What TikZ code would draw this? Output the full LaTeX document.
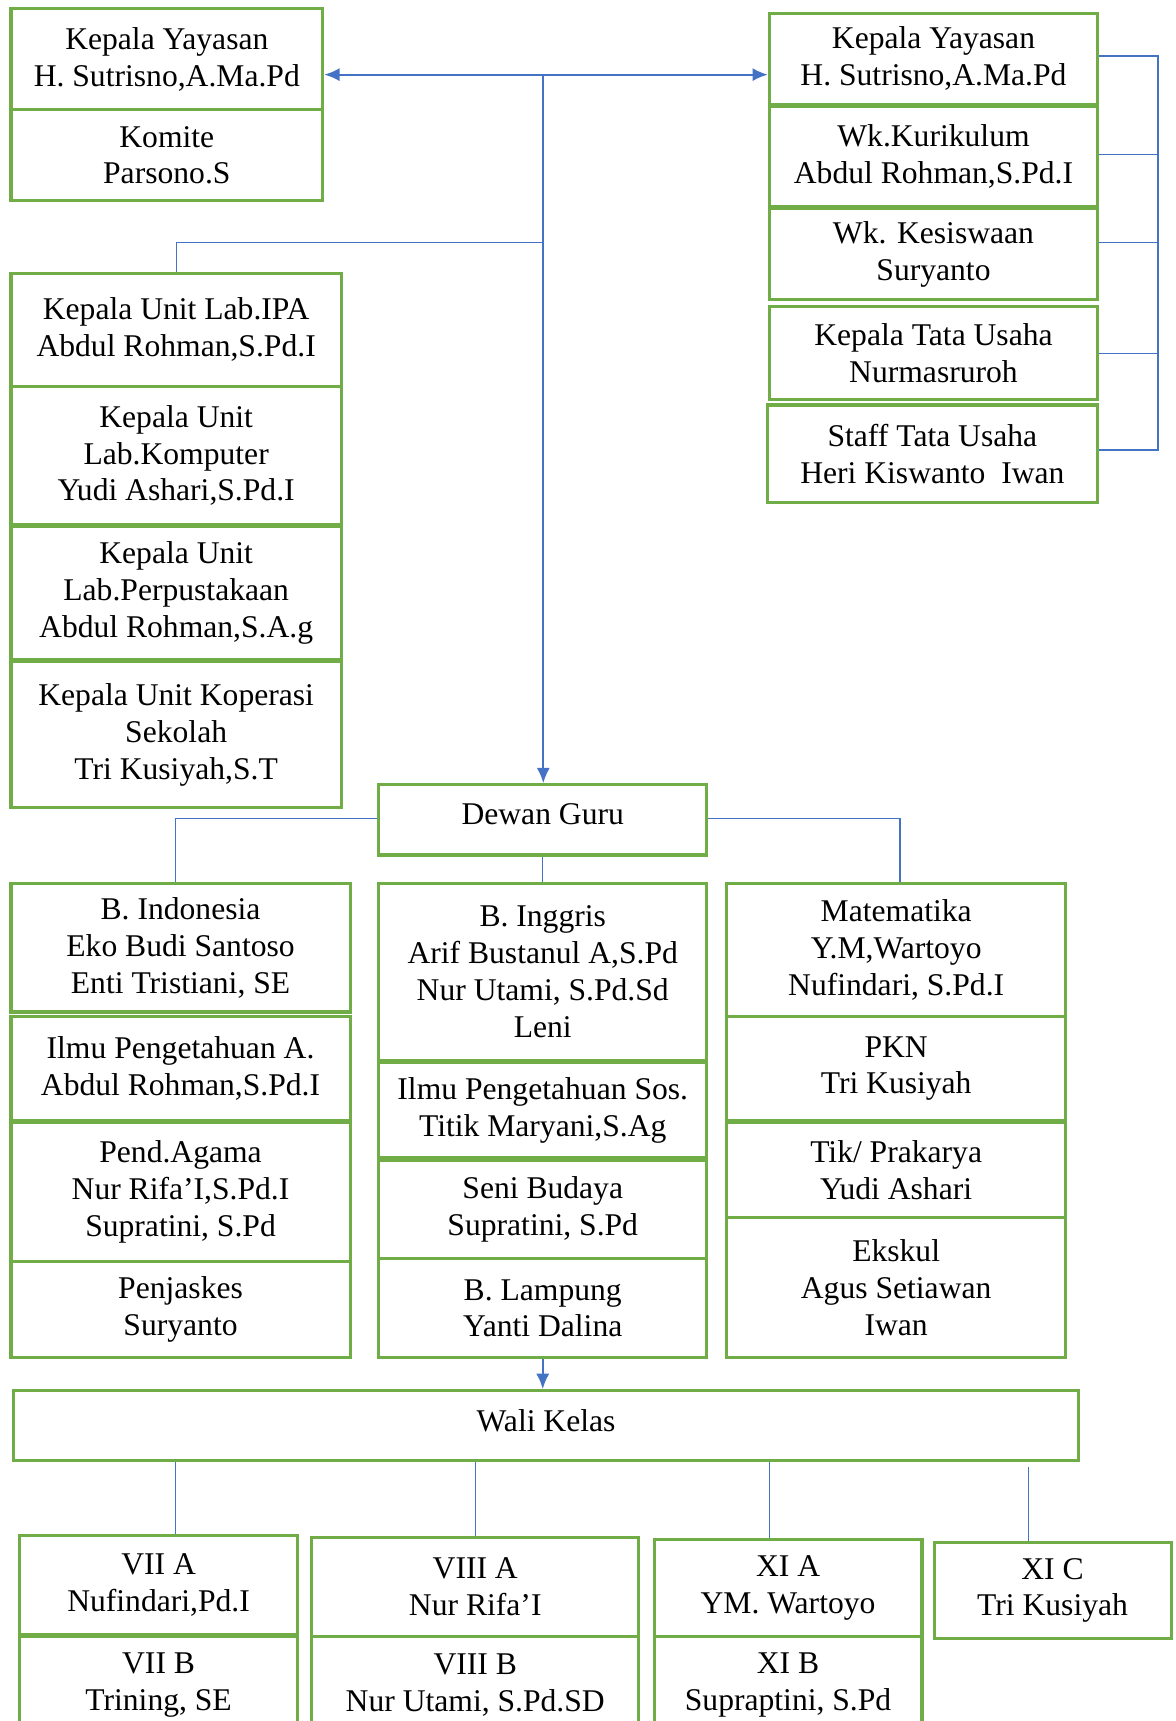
\documentclass[tikz,border=0pt]{standalone}
\usepackage{fontspec}
\setmainfont{Liberation Serif}
\usetikzlibrary{arrows.meta}
\definecolor{grn}{RGB}{112,173,71}
\definecolor{blu}{RGB}{68,114,196}
\newcommand\mybox[7][]{%
  \node[bx,#1,minimum width={(#5-#3)*0.5pt},minimum height={(#6-#4)*0.5pt}]
    (#2) at ({(#3+#5)/2},{(#4+#6)/2}) {#7};}
\begin{document}
\begin{tikzpicture}[x=0.5pt,y=-0.5pt,
  bx/.style={draw=grn,line width=1.4pt,inner sep=0pt,align=center,
    font=\fontsize{14.4pt}{16.8pt}\selectfont},
  thin/.style={draw=blu,line width=0.6pt},
  main/.style={draw=blu,line width=1pt},
  arr/.style={-{Latex[length=7pt,width=6pt]}}]
\useasboundingbox (0,0) rectangle (1071,1568);
% top left
\mybox{KYL}{10}{8}{294}{100}{Kepala Yayasan\\H. Sutrisno,A.Ma.Pd}
\mybox{KOM}{10}{100}{294}{183}{Komite\\Parsono.S}
% right column
\mybox{KYR}{701}{12}{1000}{95}{Kepala Yayasan\\H. Sutrisno,A.Ma.Pd}
\mybox{KUR}{701}{97}{1000}{188}{Wk.Kurikulum\\Abdul Rohman,S.Pd.I}
\mybox{KES}{701}{190}{1000}{273}{Wk. Kesiswaan\\Suryanto}
\mybox{KTU}{701}{279}{1000}{364}{Kepala Tata Usaha\\Nurmasruroh}
\mybox{STU}{699}{369}{1000}{458}{Staff Tata Usaha\\Heri Kiswanto\ \ Iwan}
% left units
\mybox{IPA}{10}{249}{311}{352}{Kepala Unit Lab.IPA\\Abdul Rohman,S.Pd.I}
\mybox{KOMP}{10}{352}{311}{478}{Kepala Unit\\Lab.Komputer\\Yudi Ashari,S.Pd.I}
\mybox{PERP}{10}{480}{311}{601}{Kepala Unit\\Lab.Perpustakaan\\Abdul Rohman,S.A.g}
\mybox{KOP}{10}{603}{311}{736}{Kepala Unit Koperasi\\Sekolah\\Tri Kusiyah,S.T}
% dewan guru
\mybox[text depth=5pt]{DG}{345}{715}{644}{779}{Dewan Guru}
% column 1
\mybox{BI}{10}{805}{319}{922}{B. Indonesia\\Eko Budi Santoso\\Enti Tristiani, SE}
\mybox{IPAA}{10}{926}{319}{1021}{Ilmu Pengetahuan A.\\Abdul Rohman,S.Pd.I}
\mybox{AG}{10}{1023}{319}{1149}{Pend.Agama\\Nur Rifa’I,S.Pd.I\\Supratini, S.Pd}
\mybox{PJ}{10}{1149}{319}{1237}{Penjaskes\\Suryanto}
% column 2
\mybox{BING}{345}{805}{644}{966}{B. Inggris\\Arif Bustanul A,S.Pd\\Nur Utami, S.Pd.Sd\\Leni}
\mybox{IPS}{345}{968}{644}{1055}{Ilmu Pengetahuan Sos.\\Titik Maryani,S.Ag}
\mybox{SB}{345}{1057}{644}{1147}{Seni Budaya\\Supratini, S.Pd}
\mybox{BL}{345}{1147}{644}{1237}{B. Lampung\\Yanti Dalina}
% column 3
\mybox{MAT}{662}{805}{971}{926}{Matematika\\Y.M,Wartoyo\\Nufindari, S.Pd.I}
\mybox{PKN}{662}{926}{971}{1021}{PKN\\Tri Kusiyah}
\mybox{TIK}{662}{1023}{971}{1109}{Tik/ Prakarya\\Yudi Ashari}
\mybox{EKS}{662}{1109}{971}{1237}{Ekskul\\Agus Setiawan\\Iwan}
% wali kelas
\mybox[text depth=5pt]{WK}{12}{1267}{983}{1331}{Wali Kelas}
% classes
\mybox{VIIA}{18}{1399}{271}{1489}{VII A\\Nufindari,Pd.I}
\mybox{VIIB}{18}{1491}{271}{1580}{VII B\\Trining, SE}
\mybox{VIIIA}{284}{1401}{582}{1491}{VIII A\\Nur Rifa’I}
\mybox{VIIIB}{284}{1491}{582}{1580}{VIII B\\Nur Utami, S.Pd.SD}
\mybox{XIA}{596}{1403}{840}{1491}{XI A\\YM. Wartoyo}
\mybox{XIB}{596}{1491}{840}{1580}{XI B\\Supraptini, S.Pd}
\mybox{XIC}{851}{1405}{1067}{1493}{XI C\\Tri Kusiyah}
% coordinates
\coordinate (J1) at (495,68);
\coordinate (J2) at (495,221);
\coordinate (rx) at (1055,0);
\coordinate (y1) at (0,51);
\coordinate (y2) at (0,141);
\coordinate (y3) at (0,221);
\coordinate (y4) at (0,322);
\coordinate (y5) at (0,410);
\coordinate (dgy) at (0,746);
\coordinate (c1) at (160,0);
\coordinate (c3) at (820,0);
\coordinate (w1) at (160,0);
\coordinate (w2) at (433,0);
\coordinate (w3) at (701,0);
\coordinate (w4) at (937,0);
% main connectors
\draw[main,arr] (J1) -- (J1 -| KYL.east);
\draw[main,arr] (J1) -- (J1 -| KYR.west);
\draw[main,arr] (J1) -- (J1 |- DG.north);
\draw[thin] (J2) -- (J2 -| IPA.north) -- (IPA.north);
% right bracket
\draw[thin] (KYR.east |- y1) -- (rx |- y1) -- (rx |- y5) -- (STU.east |- y5);
\draw[thin] (KUR.east |- y2) -- (rx |- y2);
\draw[thin] (KES.east |- y3) -- (rx |- y3);
\draw[thin] (KTU.east |- y4) -- (rx |- y4);
% dewan guru branches
\draw[thin] (DG.west |- dgy) -- (c1 |- dgy) -- (c1 |- BI.north);
\draw[thin] (DG.east |- dgy) -- (c3 |- dgy) -- (c3 |- MAT.north);
\draw[thin] (DG.south -| BING.north) -- (BING.north);
\draw[main,arr] (BL.south) -- (BL.south |- WK.north);
% wali kelas branches
\draw[thin] (WK.south -| w1) -- (VIIA.north -| w1);
\draw[thin] (WK.south -| w2) -- (VIIIA.north -| w2);
\draw[thin] (WK.south -| w3) -- (XIA.north -| w3);
\draw[thin] ([yshift=-2pt]WK.south -| w4) -- (XIC.north -| w4);
\end{tikzpicture}
\end{document}
